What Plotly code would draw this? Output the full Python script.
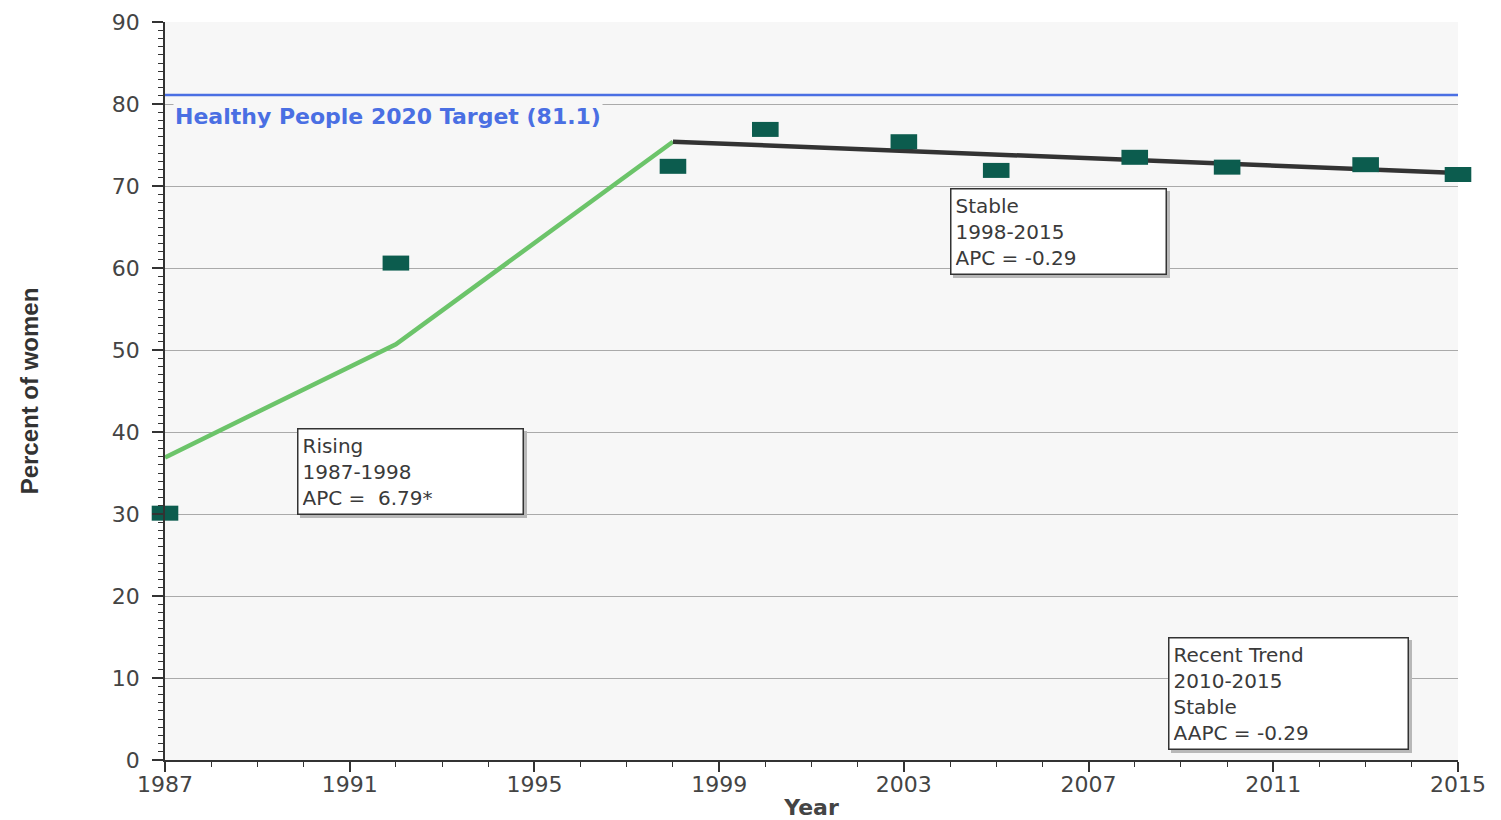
import plotly.graph_objects as go

# ---- data ----
years = [1987, 1992, 1998, 2000, 2003, 2005, 2008, 2010, 2013, 2015]
pct_women = [30.1, 60.6, 72.4, 76.9, 75.4, 71.9, 73.5, 72.3, 72.6, 71.4]

rising_years = [1987, 1992, 1998]
rising_fit = [36.9, 50.7, 75.4]

stable_years = [1998, 2015]
stable_fit = [75.4, 71.6]

target_value = 81.1
target_label = "Healthy People 2020 Target (81.1)"

x_ticks = [1987, 1991, 1995, 1999, 2003, 2007, 2011, 2015]
y_ticks = [0, 10, 20, 30, 40, 50, 60, 70, 80, 90]

box_texts = [
    "Rising<br>1987-1998<br>APC =  6.79*",
    "Stable<br>1998-2015<br>APC = -0.29",
    "Recent Trend<br>2010-2015<br>Stable<br>AAPC = -0.29",
]
box_x = [1989.85, 2004.0, 2008.72]
box_y = [40.5, 69.8, 15.0]
box_w = [216, 206, 230]

TXT = "#444444"
FONT = "DejaVu Sans, Liberation Sans, Arial, sans-serif"

fig = go.Figure()

# target line
fig.add_trace(go.Scatter(
    x=[x_ticks[0], x_ticks[-1]], y=[target_value, target_value],
    mode="lines", line=dict(color="#4a6fe3", width=2.5),
    hoverinfo="skip", showlegend=False, cliponaxis=False))

fig.add_trace(go.Scatter(
    x=rising_years, y=rising_fit, mode="lines",
    line=dict(color="#6cc46a", width=4.5),
    showlegend=False, cliponaxis=False))

fig.add_trace(go.Scatter(
    x=stable_years, y=stable_fit, mode="lines",
    line=dict(color="#333333", width=4.5),
    showlegend=False, cliponaxis=False))

# observed points (wide rectangles via thick horizontal line markers)
fig.add_trace(go.Scatter(
    x=years, y=pct_women, mode="markers",
    marker=dict(symbol="line-ew", size=19,
                line=dict(color="#0c5c4e", width=15)),
    showlegend=False, cliponaxis=False))

# target label
fig.add_annotation(
    x=x_ticks[0], y=target_value - 2.6, xref="x", yref="y",
    text="<b>" + target_label + "</b>", showarrow=False,
    xanchor="left", yanchor="middle", xshift=8,
    font=dict(family=FONT, size=22, color="#4a6fe3"),
    bgcolor="#f7f7f7")

# annotation boxes with shadows
for t, bx, by, bw in zip(box_texts, box_x, box_y, box_w):
    fig.add_annotation(
        x=bx, y=by, xref="x", yref="y", text=t, showarrow=False,
        xanchor="left", yanchor="top", align="left",
        xshift=3, yshift=-3, width=bw,
        font=dict(family=FONT, size=20, color="rgba(0,0,0,0)"),
        bgcolor="#b8b8b8", bordercolor="#b8b8b8", borderwidth=1.5, borderpad=4)
    fig.add_annotation(
        x=bx, y=by, xref="x", yref="y", text=t, showarrow=False,
        xanchor="left", yanchor="top", align="left",
        width=bw,
        font=dict(family=FONT, size=20, color="#3a3a3a"),
        bgcolor="white", bordercolor="#333333", borderwidth=1.5, borderpad=4)

fig.update_layout(
    width=1493, height=812,
    margin=dict(l=157, r=43, t=14, b=60, autoexpand=False),
    paper_bgcolor="white", plot_bgcolor="#f7f7f7",
    font=dict(family=FONT, color=TXT),
)

fig.update_xaxes(
    range=[1987, 2015], tickvals=x_ticks, ticktext=[str(v) for v in x_ticks],
    tickfont=dict(size=22, color=TXT), automargin=False,
    ticklabelstandoff=-6,
    showline=True, linecolor="#333333", linewidth=1.5,
    ticks="outside", ticklen=10, tickcolor="#333333", tickwidth=1.5,
    minor=dict(dtick=1, tick0=1987, ticks="outside", ticklen=5,
               tickcolor="#333333", tickwidth=1, showgrid=False),
    showgrid=False, zeroline=False,
    title=dict(text="<b>Year</b>", font=dict(size=22, color=TXT), standoff=10),
)

fig.update_yaxes(
    range=[0, 90], tickvals=y_ticks, ticktext=[str(v) for v in y_ticks],
    tickfont=dict(size=22, color=TXT), automargin=False,
    ticklabelstandoff=8,
    showline=True, linecolor="#333333", linewidth=1.5,
    ticks="outside", ticklen=11, tickcolor="#333333", tickwidth=1.5,
    minor=dict(dtick=1, tick0=0, ticks="outside", ticklen=5,
               tickcolor="#333333", tickwidth=1, showgrid=False),
    showgrid=True, gridcolor="#aaaaaa", gridwidth=1, zeroline=False,
    title=dict(text="<b>Percent of women</b>",
               font=dict(family="Liberation Sans Narrow, Arial Narrow, Liberation Sans, sans-serif",
                         size=24, color="#333333"), standoff=66),
)

fig.write_html("out.html")
